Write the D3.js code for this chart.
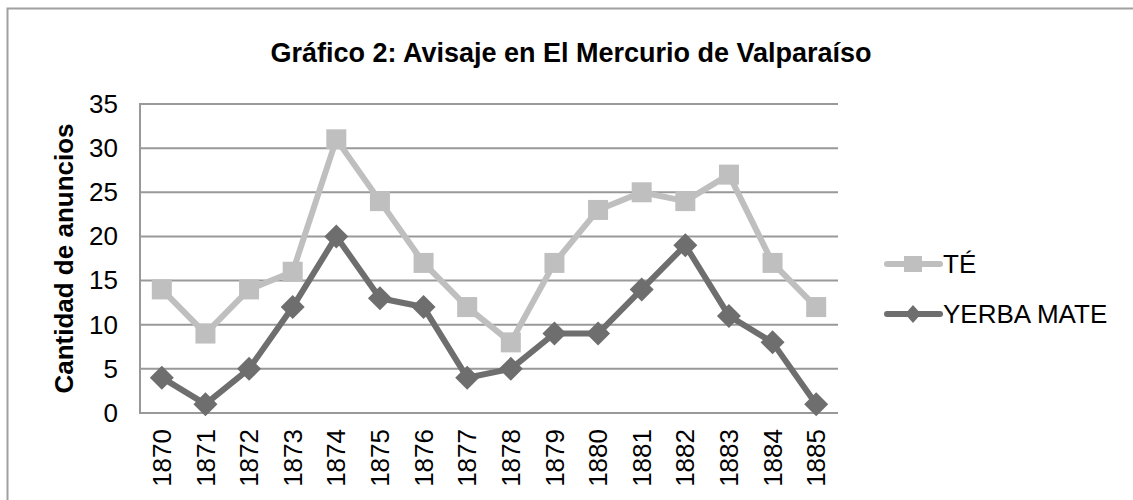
<!DOCTYPE html>
<html>
<head>
<meta charset="utf-8">
<script src="https://cdn.jsdelivr.net/npm/d3@7"></script>
<style>
body{margin:0;background:#fff;}
text{font-family:"Liberation Sans",Arial,sans-serif;}
</style>
</head>
<body>
<svg id="chart" width="1133" height="500"></svg>
<script>
// datos del grafico
var years=["1870","1871","1872","1873","1874","1875","1876","1877","1878","1879","1880","1881","1882","1883","1884","1885"];
var te=[14,9,14,16,31,24,17,12,8,17,23,25,24,27,17,12];
var yerba=[4,1,5,12,20,13,12,4,5,9,9,14,19,11,8,1];
var yTicks=[0,5,10,15,20,25,30,35];

var svg=d3.select("#chart");
var pLeft=140,pRight=838,pTop=104,pBottom=413;

// marco exterior
svg.append("rect").attr("x",7.5).attr("y",8.5).attr("width",1140).attr("height",520)
	.attr("fill","none").attr("stroke","#a0a0a0").attr("stroke-width",2);

var x=d3.scaleBand().domain(years).range([pLeft,pRight]);
var y=d3.scaleLinear().domain([0,35]).range([pBottom,pTop]);

svg.append("text").attr("x",571).attr("y",62).attr("text-anchor","middle")
	.attr("font-size",27).attr("font-weight","bold").text("Gráfico 2: Avisaje en El Mercurio de Valparaíso");

// lineas de grilla
svg.selectAll(".grid").data(yTicks).enter().append("line").attr("class","grid")
	.attr("x1",pLeft).attr("x2",pRight).attr("y1",function(d){return y(d);}).attr("y2",function(d){return y(d);})
	.attr("stroke","#999").attr("stroke-width",2);
svg.append("line").attr("x1",pLeft).attr("x2",pLeft).attr("y1",pTop-1).attr("y2",pBottom+1)
	.attr("stroke","#999").attr("stroke-width",2);

var yAxis=svg.append("g").attr("transform","translate("+pLeft+",0)")
	.call(d3.axisLeft(y).tickValues(yTicks).tickSize(0).tickPadding(22));
yAxis.select(".domain").remove();
yAxis.attr("font-size",26).attr("font-family",null);
yAxis.selectAll("text").attr("fill","#000");

var xAxis=svg.append("g").attr("transform","translate(0,"+pBottom+")")
	.call(d3.axisBottom(x).tickSize(0));
xAxis.select(".domain").remove();
xAxis.attr("font-size",26).attr("font-family",null);
xAxis.selectAll("text").attr("fill","#000")
	.attr("transform","rotate(-90)").attr("text-anchor","end")
	.attr("x",-16).attr("y",0).attr("dy","0.35em");

svg.append("text").attr("transform","translate(73,"+((pTop+pBottom)/2)+") rotate(-90)")
	.attr("text-anchor","middle").attr("font-size",26).attr("font-weight","bold").text("Cantidad de anuncios");

function cx(d,i){return x(years[i])+x.bandwidth()/2;}

var line=d3.line().x(function(d,i){return cx(d,i);}).y(function(d){return y(d);});

svg.append("path").datum(te).attr("d",line).attr("fill","none")
	.attr("stroke","#bfbfbf").attr("stroke-width",6).attr("stroke-linejoin","round");
svg.selectAll(".sq").data(te).enter().append("rect").attr("class","sq")
	.attr("x",function(d,i){return cx(d,i)-10;}).attr("y",function(d){return y(d)-10;})
	.attr("width",20).attr("height",20).attr("fill","#bfbfbf");

svg.append("path").datum(yerba).attr("d",line).attr("fill","none")
	.attr("stroke","#6e6e6e").attr("stroke-width",6).attr("stroke-linejoin","round");
svg.selectAll(".dm").data(yerba).enter().append("path").attr("class","dm")
	.attr("d","M0,-12L12,0L0,12L-12,0Z")
	.attr("transform",function(d,i){return "translate("+cx(d,i)+","+y(d)+")";})
	.attr("fill","#6e6e6e");

// leyenda
var legend=[{name:"TÉ",color:"#bfbfbf",shape:"sq",ly:264},{name:"YERBA MATE",color:"#6e6e6e",shape:"dm",ly:314}];
legend.forEach(function(l){
	svg.append("line").attr("x1",887).attr("x2",940).attr("y1",l.ly).attr("y2",l.ly)
		.attr("stroke",l.color).attr("stroke-width",6).attr("stroke-linecap","round");
	if(l.shape=="sq"){
		svg.append("rect").attr("x",904).attr("y",l.ly-8).attr("width",18).attr("height",16).attr("fill",l.color);
	}else{
		svg.append("path").attr("d","M0,-9L8,0L0,9L-8,0Z").attr("transform","translate(913,"+l.ly+")").attr("fill",l.color);
	}
	svg.append("text").attr("x",943).attr("y",l.ly).attr("dy","0.36em").attr("font-size",26).text(l.name);
});
</script>
</body>
</html>
